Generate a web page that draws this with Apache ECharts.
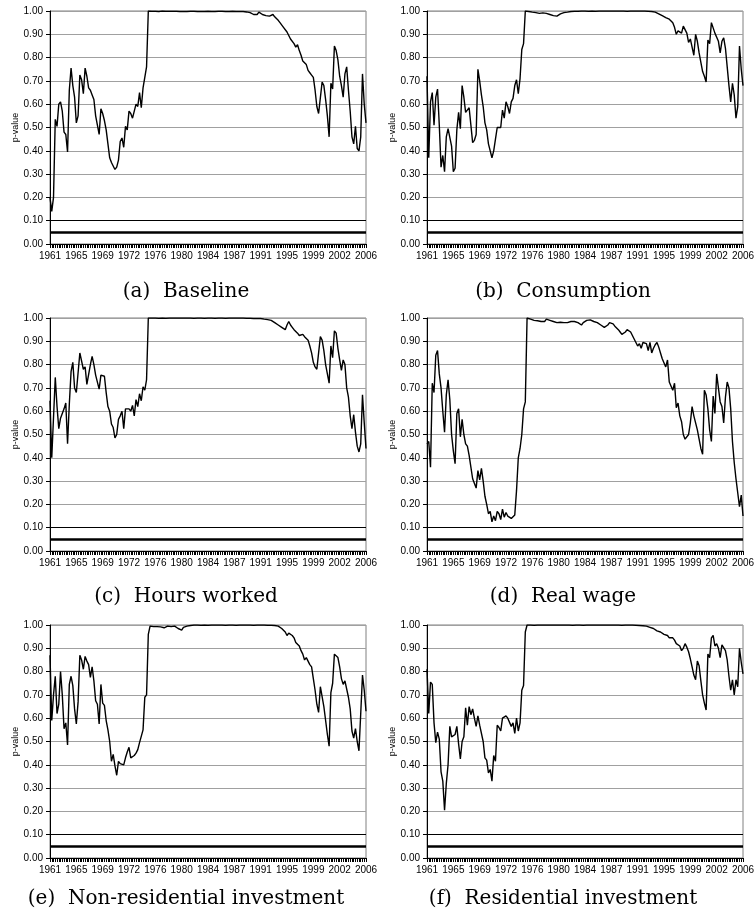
<!DOCTYPE html>
<html><head><meta charset="utf-8">
<script src="https://cdn.jsdelivr.net/npm/echarts@6/dist/echarts.min.js"></script>
<style>html,body{margin:0;padding:0;background:#fff}#c{width:754px;height:921px}</style>
</head><body><div id="c"></div>
<script>
// Tick labels shown every 15 quarters
const tickLabels = ['1961','1965','1969','1972','1976','1980','1984','1987','1991','1995','1999','2002','2006'];
// Quarterly categories 1961Q1 .. 2006Q1
const categories = [];
for (let y = 1961; y <= 2006; y++) for (let q = 1; q <= 4; q++) if (categories.length < 181) categories.push(y + 'Q' + q);

const baseline = [
0.20,0.14,0.20,0.535,0.505,0.60,0.61,0.57,0.48,0.47,
0.395,0.66,0.755,0.68,0.63,0.52,0.55,0.725,0.705,0.645,
0.755,0.72,0.67,0.66,0.64,0.62,0.55,0.51,0.47,0.58,
0.56,0.53,0.49,0.43,0.37,0.35,0.345,0.32,0.33,0.36,
0.44,0.455,0.415,0.505,0.49,0.57,0.56,0.54,0.535,0.60,
0.59,0.65,0.585,0.67,0.67,0.76,1.00,1.00,0.999,1.00,
0.999,1.00,0.998,0.999,1.00,0.998,0.999,0.998,0.999,1.00,
0.999,0.998,0.999,0.998,0.998,0.999,0.998,0.999,0.998,0.998,
0.999,0.998,0.999,0.998,0.998,0.999,0.998,0.999,0.998,0.998,
0.999,0.998,0.998,0.999,0.998,0.998,0.999,0.998,0.999,0.998,
0.998,0.999,0.998,0.998,0.999,0.998,0.998,0.999,0.998,0.998,
0.998,0.998,0.996,0.995,0.993,0.99,0.985,0.98,0.985,0.995,
0.99,0.985,0.98,0.98,0.98,0.978,0.975,0.985,0.975,0.97,
0.96,0.95,0.945,0.93,0.925,0.91,0.895,0.88,0.875,0.86,
0.845,0.855,0.83,0.81,0.785,0.78,0.77,0.745,0.735,0.725,
0.715,0.66,0.59,0.56,0.555,0.695,0.68,0.62,0.55,0.46,
0.69,0.665,0.85,0.83,0.79,0.72,0.68,0.63,0.73,0.76,
0.66,0.57,0.46,0.43,0.505,0.41,0.40,0.46,0.73,0.60,
0.52];

const consumption = [
0.72,0.37,0.61,0.65,0.51,0.63,0.665,0.51,0.33,0.38,
0.31,0.46,0.495,0.495,0.42,0.31,0.325,0.49,0.565,0.495,
0.68,0.63,0.565,0.565,0.585,0.51,0.435,0.445,0.47,0.75,
0.70,0.64,0.59,0.52,0.49,0.43,0.425,0.37,0.40,0.45,
0.50,0.505,0.50,0.575,0.54,0.61,0.59,0.56,0.61,0.625,
0.68,0.705,0.645,0.71,0.835,0.86,1.00,1.00,0.998,0.997,
0.995,0.995,0.993,0.992,0.99,0.99,0.992,0.99,0.99,0.988,
0.985,0.983,0.98,0.978,0.978,0.98,0.988,0.99,0.993,0.995,
0.995,0.997,0.998,0.998,0.999,1.00,0.999,1.00,1.00,0.999,
1.00,1.00,0.999,1.00,1.00,1.00,0.999,1.00,1.00,1.00,
1.00,0.999,1.00,1.00,1.00,1.00,1.00,0.999,1.00,1.00,
1.00,1.00,1.00,1.00,0.999,1.00,1.00,1.00,1.00,0.999,
1.00,1.00,1.00,0.999,1.00,1.00,0.999,0.999,0.998,0.998,
0.995,0.99,0.988,0.985,0.98,0.975,0.972,0.97,0.965,0.96,
0.95,0.93,0.90,0.915,0.92,0.905,0.935,0.93,0.905,0.865,
0.88,0.845,0.81,0.90,0.87,0.82,0.78,0.74,0.72,0.695,
0.875,0.86,0.95,0.945,0.905,0.905,0.87,0.82,0.87,0.885,
0.84,0.76,0.68,0.61,0.69,0.64,0.54,0.59,0.85,0.75,
0.68];

const hoursWorked = [
0.645,0.40,0.40,0.745,0.62,0.525,0.57,0.59,0.61,0.635,
0.46,0.63,0.77,0.81,0.70,0.68,0.675,0.85,0.85,0.78,
0.79,0.715,0.71,0.80,0.835,0.80,0.755,0.75,0.695,0.755,
0.755,0.75,0.68,0.62,0.60,0.545,0.53,0.485,0.50,0.565,
0.58,0.60,0.525,0.61,0.615,0.61,0.60,0.625,0.58,0.65,
0.62,0.675,0.645,0.705,0.69,0.735,1.00,1.00,1.00,0.999,
1.00,1.00,0.999,1.00,1.00,1.00,0.999,1.00,1.00,1.00,
1.00,0.999,1.00,1.00,1.00,1.00,1.00,0.999,1.00,1.00,
1.00,1.00,0.999,1.00,1.00,1.00,1.00,1.00,0.999,1.00,
1.00,1.00,1.00,1.00,0.999,1.00,1.00,1.00,1.00,1.00,
0.999,1.00,1.00,1.00,1.00,0.999,1.00,1.00,1.00,0.999,
1.00,0.999,0.999,0.998,0.999,0.998,0.998,0.999,0.998,0.997,
0.998,0.997,0.995,0.995,0.993,0.99,0.99,0.985,0.98,0.975,
0.97,0.975,0.96,0.955,0.95,0.97,0.985,0.97,0.96,0.95,
0.945,0.935,0.925,0.93,0.93,0.92,0.915,0.905,0.88,0.85,
0.81,0.79,0.78,0.775,0.92,0.905,0.86,0.80,0.76,0.72,
0.88,0.83,0.945,0.935,0.87,0.82,0.775,0.82,0.80,0.70,
0.66,0.58,0.525,0.585,0.51,0.45,0.425,0.46,0.67,0.55,
0.44];

const realWage = [
0.46,0.47,0.36,0.72,0.68,0.84,0.86,0.76,0.70,0.60,
0.51,0.67,0.735,0.65,0.50,0.43,0.375,0.59,0.61,0.49,
0.565,0.50,0.46,0.45,0.41,0.36,0.31,0.315,0.27,0.345,
0.305,0.355,0.30,0.235,0.20,0.16,0.17,0.125,0.15,0.13,
0.17,0.16,0.135,0.18,0.145,0.165,0.15,0.145,0.14,0.135,
0.155,0.26,0.40,0.44,0.50,0.61,0.64,1.00,0.998,0.995,
0.993,0.99,0.99,0.988,0.99,0.985,0.99,0.985,0.995,0.993,
0.99,0.99,0.985,0.985,0.98,0.98,0.982,0.978,0.98,0.985,
0.98,0.975,0.985,0.99,0.985,0.99,0.98,0.975,0.97,0.98,
0.985,0.99,0.99,0.992,0.99,0.985,0.985,0.98,0.975,0.97,
0.965,0.96,0.965,0.97,0.98,0.975,0.975,0.965,0.96,0.95,
0.94,0.93,0.935,0.94,0.95,0.955,0.94,0.925,0.91,0.895,
0.88,0.89,0.87,0.895,0.89,0.89,0.86,0.895,0.85,0.87,
0.885,0.895,0.875,0.85,0.825,0.825,0.79,0.82,0.725,0.72,
0.69,0.72,0.615,0.635,0.58,0.555,0.50,0.48,0.475,0.50,
0.55,0.62,0.58,0.55,0.52,0.48,0.44,0.415,0.69,0.67,
0.61,0.52,0.47,0.665,0.59,0.76,0.70,0.64,0.62,0.55,
0.66,0.725,0.70,0.61,0.47,0.38,0.31,0.31,0.19,0.24,
0.15];

const nonResInvestment = [
0.87,0.59,0.70,0.78,0.62,0.66,0.80,0.70,0.555,0.58,
0.485,0.745,0.78,0.74,0.64,0.575,0.67,0.87,0.85,0.81,
0.865,0.845,0.83,0.775,0.82,0.76,0.675,0.66,0.575,0.745,
0.665,0.655,0.59,0.55,0.50,0.415,0.445,0.395,0.355,0.415,
0.405,0.41,0.40,0.43,0.455,0.475,0.43,0.435,0.44,0.45,
0.465,0.495,0.49,0.55,0.69,0.70,0.96,0.995,0.995,0.993,
0.995,0.993,0.99,0.992,0.99,0.988,0.99,0.995,0.995,0.993,
0.99,0.995,0.99,0.985,0.98,0.978,0.99,0.995,0.995,0.997,
0.998,0.999,1.00,0.999,1.00,1.00,0.999,1.00,1.00,1.00,
0.999,1.00,1.00,1.00,1.00,0.999,1.00,1.00,1.00,1.00,
0.999,1.00,1.00,1.00,1.00,1.00,0.999,1.00,1.00,1.00,
1.00,0.999,1.00,1.00,1.00,1.00,0.999,1.00,1.00,1.00,
1.00,0.999,1.00,1.00,0.999,1.00,0.999,0.999,0.998,0.997,
0.995,0.99,0.985,0.98,0.97,0.955,0.965,0.96,0.955,0.945,
0.925,0.925,0.91,0.89,0.875,0.85,0.86,0.86,0.83,0.82,
0.77,0.72,0.66,0.625,0.735,0.735,0.65,0.59,0.53,0.48,
0.71,0.75,0.875,0.875,0.86,0.82,0.77,0.745,0.76,0.765,
0.69,0.64,0.545,0.515,0.555,0.50,0.46,0.62,0.785,0.72,
0.63];

const resInvestment = [
0.81,0.62,0.755,0.745,0.58,0.495,0.54,0.51,0.37,0.33,
0.205,0.32,0.40,0.565,0.52,0.52,0.53,0.565,0.49,0.425,
0.50,0.52,0.645,0.57,0.65,0.615,0.64,0.60,0.565,0.61,
0.57,0.565,0.50,0.43,0.42,0.365,0.38,0.33,0.44,0.415,
0.57,0.56,0.545,0.60,0.595,0.61,0.60,0.595,0.565,0.58,
0.535,0.60,0.545,0.58,0.72,0.74,0.97,1.00,1.00,1.00,
1.00,0.999,1.00,1.00,1.00,1.00,0.999,1.00,1.00,1.00,
1.00,1.00,0.999,1.00,1.00,1.00,1.00,1.00,0.999,1.00,
1.00,1.00,1.00,0.999,1.00,1.00,1.00,1.00,1.00,0.999,
1.00,1.00,1.00,1.00,0.999,1.00,1.00,1.00,1.00,1.00,
0.999,1.00,1.00,1.00,1.00,1.00,0.999,1.00,1.00,1.00,
1.00,0.999,1.00,1.00,0.999,1.00,0.999,1.00,0.999,0.999,
0.999,0.998,0.998,0.997,0.995,0.995,0.993,0.99,0.99,0.985,
0.98,0.975,0.975,0.97,0.965,0.96,0.96,0.955,0.945,0.94,
0.945,0.935,0.92,0.925,0.91,0.89,0.90,0.92,0.905,0.885,
0.855,0.82,0.785,0.765,0.845,0.825,0.76,0.70,0.665,0.635,
0.875,0.86,0.945,0.955,0.91,0.92,0.90,0.86,0.915,0.91,
0.89,0.85,0.78,0.72,0.765,0.70,0.765,0.735,0.90,0.84,
0.79];

// Significance reference lines (10% and 5%)
const thresholds = [0.10, 0.05];
const captions = ['(a)  Baseline','(b)  Consumption','(c)  Hours worked','(d)  Real wage','(e)  Non-residential investment','(f)  Residential investment'];
const seriesData = [baseline, consumption, hoursWorked, realWage, nonResInvestment, resInvestment];

// layout
const colLeft = [50, 427];
const rowTop = [11, 318, 625];
const gw = 316, gh = 233;
const capX = [186, 563];
const capY = [292, 597, 899];

const grids = [], xAxes = [], yAxes = [], series = [], graphics = [];
for (let i = 0; i < 6; i++) {
  const c = i % 2, r = Math.floor(i / 2);
  grids.push({left: colLeft[c], top: rowTop[r], width: gw, height: gh, show: true,
    borderColor: '#808080', borderWidth: 1, backgroundColor: 'transparent',
    containLabel: false, outerBoundsMode: 'none'});
  xAxes.push({type: 'category', gridIndex: i, data: categories, boundaryGap: false,
    axisLine: {show: true, lineStyle: {color: '#000', width: 1}},
    axisTick: {show: true, interval: 0, length: 4, inside: false, lineStyle: {color: '#000', width: 1}},
    axisLabel: {interval: 14, hideOverlap: false, margin: 7, color: '#000', fontSize: 10,
      fontFamily: 'Liberation Sans, Arial, sans-serif',
      formatter: (v, idx) => tickLabels[Math.round(idx / 15)]},
    splitLine: {show: false}});
  yAxes.push({type: 'value', gridIndex: i, min: 0, max: 1, interval: 0.1,
    name: 'p-value', nameLocation: 'middle', nameGap: 30, nameRotate: 90, nameMoveOverlap: false,
    nameTextStyle: {color: '#000', fontSize: 9, fontFamily: 'Liberation Sans, Arial, sans-serif'},
    axisLine: {show: true, lineStyle: {color: '#000', width: 1}},
    axisTick: {show: true, length: 4, inside: false, lineStyle: {color: '#000', width: 1}},
    axisLabel: {color: '#000', fontSize: 10, margin: 7, fontFamily: 'Liberation Sans, Arial, sans-serif',
      formatter: v => v.toFixed(2)},
    splitLine: {show: true, lineStyle: {color: '#a0a0a0', width: 1}}});
  series.push({type: 'line', xAxisIndex: i, yAxisIndex: i, data: seriesData[i],
    showSymbol: false, symbol: 'none', smooth: false, animation: false,
    lineStyle: {color: '#000', width: 1.4}, z: 3,
    markLine: {silent: true, symbol: 'none', animation: false, label: {show: false},
      data: thresholds.map((t, k) => ({yAxis: t, lineStyle: {color: '#000', type: 'solid', width: k === 0 ? 1 : 2.5}}))}});
  graphics.push({type: 'text', x: capX[c], y: capY[r], silent: true,
    style: {text: captions[i], fill: '#000', fontSize: 20, fontFamily: 'DejaVu Serif, serif',
      align: 'center', verticalAlign: 'middle', textAlign: 'center', textVerticalAlign: 'middle'}});
}

const chart = echarts.init(document.getElementById('c'), null, {renderer: 'canvas'});
chart.setOption({
  animation: false,
  backgroundColor: '#fff',
  grid: grids, xAxis: xAxes, yAxis: yAxes, series: series,
  graphic: graphics
});
</script>
</body></html>
